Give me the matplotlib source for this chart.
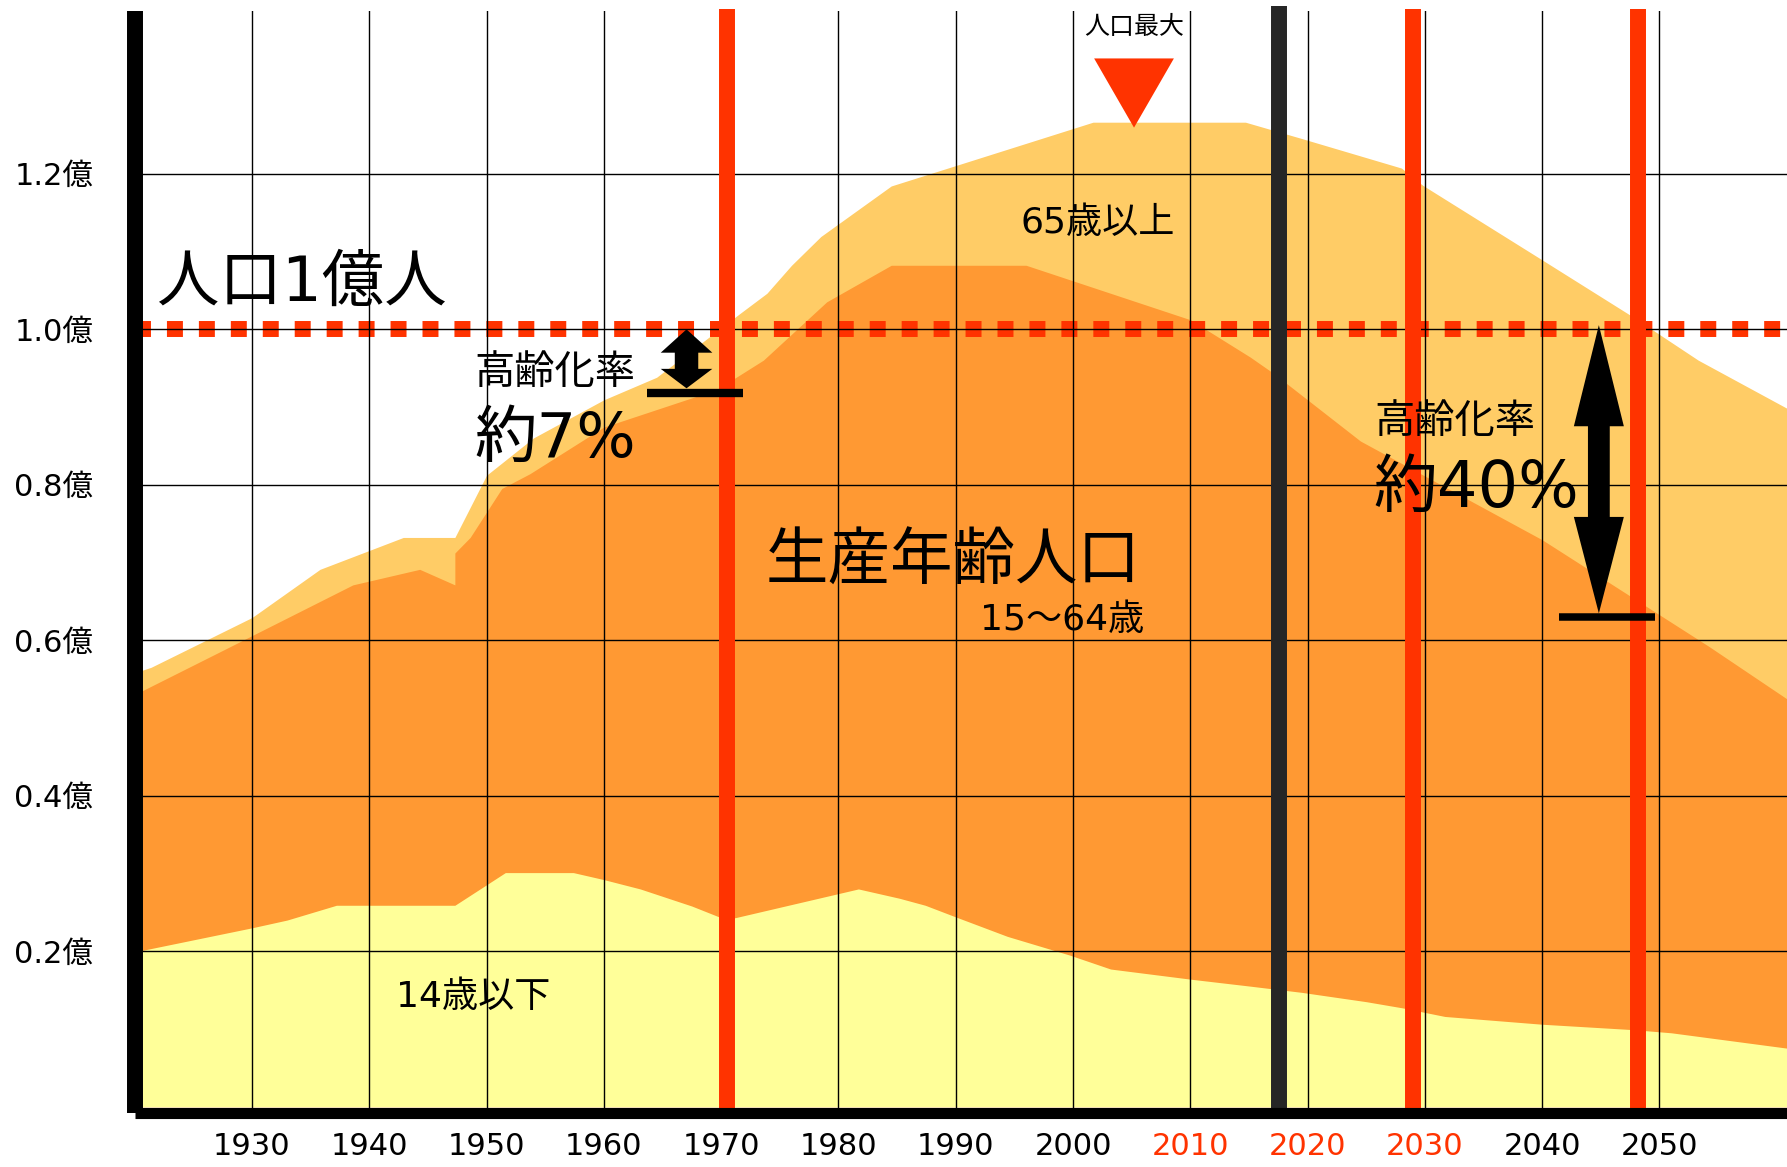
import matplotlib
matplotlib.use("Agg")
import matplotlib.pyplot as plt
from matplotlib.patches import Polygon

# Verdana-like digits from DejaVu, Japanese glyphs from Noto
plt.rcParams["font.family"] = ["DejaVu Sans", "Noto Sans CJK JP"]

# population in units of 100 million (億)
total_years = [1920, 1921.4, 1930, 1935.8, 1942.9, 1947.3, 1950.0, 1954.0, 1960.0,
               1964.5, 1971.6, 1973.9, 1976.0, 1978.5, 1984.5, 2001.7, 2014.7,
               2019.5, 2028.0, 2029.8, 2040.2, 2047.7, 2053.3, 2061]
total_values = [0.558, 0.565, 0.629, 0.691, 0.732, 0.732, 0.812, 0.860, 0.909,
                0.938, 1.020, 1.046, 1.082, 1.119, 1.184, 1.266, 1.266,
                1.245, 1.207, 1.185, 1.087, 1.016, 0.960, 0.897]

# under 65 (14歳以下 + 生産年齢人口)
under65_years = [1920, 1927.8, 1938.6, 1944.3, 1947.3, 1947.3, 1948.6, 1951.3, 1953.7,
                 1960.0, 1969.6, 1973.6, 1979.0, 1984.5, 1996.0, 2004.0, 2010.0,
                 2015.1, 2017.1, 2024.5, 2040.0, 2054.2, 2061]
under65_values = [0.530, 0.589, 0.671, 0.691, 0.671, 0.712, 0.732, 0.795, 0.814,
                  0.874, 0.922, 0.960, 1.035, 1.082, 1.082, 1.042, 1.012,
                  0.964, 0.943, 0.856, 0.729, 0.592, 0.523]

young_years = [1920, 1930, 1933, 1937.2, 1947.3, 1951.6, 1957.4, 1960, 1963.1, 1967.5,
               1970, 1971.2, 1981.7, 1985.2, 1987.4, 1990, 1994.4, 1999.7, 2003.2,
               2010, 2015.1, 2019.5, 2025, 2028.1, 2031.7, 2040, 2047.8, 2051, 2061]
young_values = [0.199, 0.230, 0.240, 0.259, 0.259, 0.301, 0.301, 0.292, 0.280, 0.258,
                0.243, 0.243, 0.280, 0.268, 0.259, 0.244, 0.219, 0.195, 0.177,
                0.164, 0.155, 0.147, 0.135, 0.127, 0.116, 0.106, 0.099, 0.095, 0.075]

year_ticks = [1930, 1940, 1950, 1960, 1970, 1980, 1990, 2000, 2010, 2020, 2030, 2040, 2050]
red_tick_years = [2010, 2020, 2030]
value_ticks = [0.2, 0.4, 0.6, 0.8, 1.0, 1.2]
value_labels = ["0.2億", "0.4億", "0.6億", "0.8億", "1.0億", "1.2億"]

red_marker_years = [1970.5, 2029.0, 2048.2]
now_year = 2017.6
one_oku = 1.0

RED = "#FF3300"
C_OLD = "#FFCC66"
C_WORK = "#FF9933"
C_YOUNG = "#FFFF99"


def double_arrow(ax, x, y_top, y_bot, head_w, shaft_w, head_top, head_bot):
    pts = [
        (x, y_top),
        (x + head_w, y_top - head_top),
        (x + shaft_w, y_top - head_top),
        (x + shaft_w, y_bot + head_bot),
        (x + head_w, y_bot + head_bot),
        (x, y_bot),
        (x - head_w, y_bot + head_bot),
        (x - shaft_w, y_bot + head_bot),
        (x - shaft_w, y_top - head_top),
        (x - head_w, y_top - head_top),
    ]
    ax.add_patch(Polygon(pts, closed=True, facecolor="black", edgecolor="none", zorder=5))


def main():
    fig = plt.figure(figsize=(17.87, 11.67), dpi=100)
    ax = fig.add_axes([135 / 1787, 54.5 / 1167, 1 - 135 / 1787, 1101.5 / 1167])

    ax.fill_between(total_years, 0, total_values, color=C_OLD, lw=0, zorder=1)
    ax.fill_between(under65_years, 0, under65_values, color=C_WORK, lw=0, zorder=1.1)
    ax.fill_between(young_years, 0, young_values, color=C_YOUNG, lw=0, zorder=1.2)

    ax.set_xlim(1920.03, 2060.87)
    ax.set_ylim(-0.0075, 1.409)

    # 1億 dotted line
    ax.axhline(one_oku, color=RED, lw=11.5, linestyle=(0, (1, 1)), zorder=2)

    ax.set_axisbelow(False)
    ax.grid(True, color="black", lw=1.0)

    for yr in red_marker_years:
        ax.axvline(yr, ymin=0, ymax=1.002, color=RED, lw=11.5, zorder=3,
                   solid_capstyle="butt", clip_on=False)
    ax.axvline(now_year, ymin=0.003, ymax=1.0045, color="#262626", lw=11.5, zorder=3,
               solid_capstyle="butt", clip_on=False)

    ax.set_xticks(year_ticks)
    ax.set_xticklabels([str(y) for y in year_ticks])
    for lab, yr in zip(ax.get_xticklabels(), year_ticks):
        if yr in red_tick_years:
            lab.set_color(RED)
    ax.set_yticks(value_ticks)
    ax.set_yticklabels(value_labels)
    ax.tick_params(axis="x", length=0, pad=14, labelsize=22)
    ax.tick_params(axis="y", length=0, pad=30, labelsize=22)

    for side in ["top", "right"]:
        ax.spines[side].set_visible(False)
    ax.spines["left"].set_linewidth(11.5)
    ax.spines["bottom"].set_linewidth(8)
    for side in ["left", "bottom"]:
        ax.spines[side].set_zorder(4)
        ax.spines[side].set_capstyle("butt")

    # annotations
    ax.text(1921.9, 1.058, "人口1億人", fontsize=45, ha="left", va="center", zorder=6)

    ax.text(2005.2, 1.389, "人口最大", fontsize=18, ha="center", va="center", zorder=6)
    ax.add_patch(Polygon([(2005.2 - 3.4, 1.348), (2005.2 + 3.4, 1.348), (2005.2, 1.259)],
                         closed=True, facecolor=RED, edgecolor="none", zorder=5))

    ax.text(2002.1, 1.136, "65歳以上", fontsize=26, ha="center", va="center", zorder=6)
    ax.text(1989.8, 0.700, "生産年齢人口", fontsize=45, ha="center", va="center", zorder=6)
    ax.text(2006.1, 0.626, "15～64歳", fontsize=26, ha="right", va="center", zorder=6)
    ax.text(1948.9, 0.141, "14歳以下", fontsize=26, ha="center", va="center", zorder=6)

    ax.text(1949.0, 0.9434, "高齢化率", fontsize=29, ha="left", va="center", zorder=6)
    ax.text(1949.0, 0.857, "約7%", fontsize=45, ha="left", va="center", zorder=6)
    double_arrow(ax, 1967.05, 0.9996, 0.9238, 2.2, 1.0, 0.030, 0.025)
    ax.plot([1963.7, 1971.9], [0.9184, 0.9184], color="black", lw=6,
            solid_capstyle="butt", zorder=5)

    ax.text(2025.65, 0.8800, "高齢化率", fontsize=29, ha="left", va="center", zorder=6)
    ax.text(2025.65, 0.795, "約40%", fontsize=46, ha="left", va="center", zorder=6)
    double_arrow(ax, 2044.83, 1.005, 0.6344, 2.13, 0.93, 0.130, 0.124)
    ax.plot([2041.4, 2049.6], [0.630, 0.630], color="black", lw=5.4,
            solid_capstyle="butt", zorder=5)

    fig.savefig("out.png", dpi=100)


if __name__ == "__main__":
    main()
